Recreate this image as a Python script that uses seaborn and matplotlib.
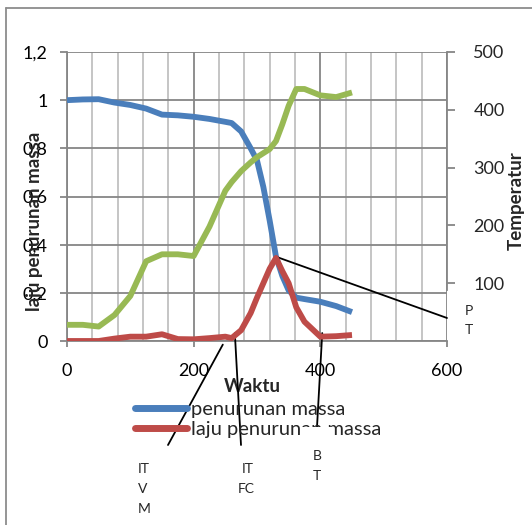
import matplotlib
matplotlib.use("Agg")
import matplotlib.pyplot as plt
import seaborn as sns
import numpy as np
from matplotlib.lines import Line2D
from matplotlib.ticker import MultipleLocator, FixedLocator

# ---- data ----
waktu = [0, 25, 50, 75, 100, 125, 150, 175, 200, 225, 250, 260, 275, 290,
         300, 310, 320, 330, 340, 350, 362, 375, 400, 425, 450]
penurunan_massa = [1.0, 1.003, 1.004, 0.99, 0.98, 0.965, 0.94, 0.937, 0.931,
                   0.922, 0.91, 0.905, 0.87, 0.80, 0.75, 0.64, 0.50, 0.35,
                   0.27, 0.21, 0.18, 0.174, 0.163, 0.145, 0.12]
laju_penurunan_massa = [0.0, 0.0, 0.0, 0.01, 0.018, 0.018, 0.028, 0.008, 0.007,
                        0.012, 0.018, 0.012, 0.045, 0.116, 0.18, 0.24, 0.30,
                        0.345, 0.29, 0.24, 0.14, 0.08, 0.018, 0.02, 0.025]
temperatur = [28, 28, 25, 45, 78, 138, 150, 150, 147, 198, 260, 275, 294, 309,
              318, 325, 332, 346, 375, 407, 436, 436, 425, 422, 430]

x_ticks = [0, 200, 400, 600]
x_ticklabels = ["0", "200", "400", "600"]
y_ticks = [0, 0.2, 0.4, 0.6, 0.8, 1.0, 1.2]
y_ticklabels = ["0", "0,2", "0,4", "0,6", "0,8", "1", "1,2"]
t_ticks = [100, 200, 300, 400, 500]
t_ticklabels = ["100", "200", "300", "400", "500"]

BLUE = "#4A7EBB"
RED = "#BE4B48"
GREEN = "#98B954"
GRID_MAJ = "#868686"
GRID_MIN = "#C0C0C0"

sns.set_style("white")
plt.rcParams['font.family'] = ['Lato', 'DejaVu Sans']

W, H = 532, 525
fig = plt.figure(figsize=(W / 100, H / 100), dpi=100)
ax = fig.add_axes([67 / W, 1 - 341 / H, 380 / W, 289 / H])

sns.lineplot(x=waktu, y=penurunan_massa, ax=ax, color=BLUE, linewidth=4.2,
             label="penurunan massa", solid_capstyle="butt", zorder=3)
sns.lineplot(x=waktu, y=laju_penurunan_massa, ax=ax, color=RED, linewidth=4.2,
             label="laju penurunan massa", solid_capstyle="butt", zorder=4)
handles, labels = ax.get_legend_handles_labels()
if ax.get_legend() is not None:
    ax.get_legend().remove()

ax.set_xlim(0, 600)
ax.set_ylim(0, 1.2)
ax.xaxis.set_major_locator(FixedLocator(x_ticks))
ax.set_xticklabels(x_ticklabels)
ax.xaxis.set_minor_locator(MultipleLocator(40))
ax.yaxis.set_major_locator(FixedLocator(y_ticks))
ax.set_yticklabels(y_ticklabels)

ax.grid(True, which="major", axis="both", color=GRID_MAJ, linewidth=1.3, zorder=0)
ax.grid(True, which="minor", axis="x", color=GRID_MIN, linewidth=1.3, zorder=0)
ax.set_axisbelow(True)

for side in ["top", "right"]:
    ax.spines[side].set_visible(False)
for side in ["left", "bottom"]:
    ax.spines[side].set_color(GRID_MAJ)
    ax.spines[side].set_linewidth(1.3)

ax.tick_params(axis="y", which="major", direction="out", length=5, width=1.3,
               color=GRID_MAJ, pad=9, labelsize=13, labelcolor="black", left=True)
ax.tick_params(axis="x", which="major", direction="out", length=4, width=1.3,
               color=GRID_MAJ, pad=12, labelsize=13, labelcolor="black", bottom=True)
ax.tick_params(axis="x", which="minor", length=0)

ax.set_xlabel("Waktu", fontsize=13.5, fontweight="bold")
ax.xaxis.set_label_coords((252 - 67) / 380, (341 - 387) / 289)
ax.xaxis.label.set_va("center")
ax.set_ylabel("laju penurunan massa", fontsize=13.5, fontweight="bold")
ax.yaxis.label.set(ha="center", va="center")
ax.yaxis.set_label_coords((35 - 67) / 380, (341 - 221) / 289)

# ---- temperature on twin axis ----
ax2 = ax.twinx()
sns.lineplot(x=waktu, y=temperatur, ax=ax2, color=GREEN, linewidth=4.2,
             legend=False, solid_capstyle="butt")
ax2.set_ylim(0, 500)
ax2.yaxis.set_major_locator(FixedLocator(t_ticks))
ax2.set_yticklabels(t_ticklabels)
ax2.grid(False)
for side in ["top", "left", "bottom"]:
    ax2.spines[side].set_visible(False)
ax2.spines["right"].set_color(GRID_MAJ)
ax2.spines["right"].set_linewidth(1.3)
ax2.spines["right"].set_bounds(88, 500)
ax2.tick_params(axis="y", direction="out", length=6, width=1.3, color=GRID_MAJ,
                pad=13, labelsize=13, right=True)
ax2.set_ylabel("Temperatur", fontsize=13.5, fontweight="bold")
ax2.yaxis.label.set(ha="center", va="center", rotation=90)
ax2.yaxis.set_label_coords((516 - 67) / 380, (341 - 201) / 289)

# ---- legend (only mass series) ----
leg = ax2.legend(handles, labels, loc="upper left",
                 bbox_to_anchor=(135 / W, 1 - 401 / H), bbox_transform=fig.transFigure,
                 frameon=False, fontsize=14.5, handlelength=2.6, handletextpad=0.2,
                 labelspacing=0.15, borderaxespad=0, borderpad=0)
for line in leg.get_lines():
    line.set_linewidth(5)
    line.set_solid_capstyle("round")

# ---- annotations (callouts) ----
def fpx(x, y):
    return (x, H - y)

ann_kw = dict(xycoords="data", textcoords="figure pixels",
              arrowprops=dict(arrowstyle="-", color="black", lw=1.3,
                              shrinkA=0, shrinkB=0), annotation_clip=False)
ax.annotate("", xy=(246, -0.015), xytext=fpx(168, 445), **ann_kw)
ax.annotate("", xy=(265, 0.033), xytext=fpx(241, 445), **ann_kw)
ax.annotate("", xy=(403, 0.033), xytext=fpx(317, 427), **ann_kw)
ax.annotate("", xy=(330, 0.35), xytext=fpx(447, 318), **ann_kw)

# white label boxes (they hide parts of underlying elements, as in the reference)
fig.patches.append(plt.Rectangle((300 / W, 1 - 470 / H), 33 / W, 43 / H,
                                 transform=fig.transFigure, facecolor="white",
                                 edgecolor="none", zorder=5))
fig.patches.append(plt.Rectangle((448 / W, 1 - 345 / H), 40 / W, 55 / H,
                                 transform=fig.transFigure, facecolor="white",
                                 edgecolor="none", zorder=5))

txt_kw = dict(fontsize=10, ha="left", va="center", zorder=6)
for s, y in zip(["IT", "V", "M"], [469, 489, 509]):
    fig.text(138 / W, 1 - y / H, s, **txt_kw)
for s, y in zip(["IT", "FC"], [469, 489]):
    fig.text((242 if s == "IT" else 238) / W, 1 - y / H, s, **txt_kw)
for s, y in zip(["B", "T"], [456, 476]):
    fig.text(313 / W, 1 - y / H, s, **txt_kw)
for s, y in zip(["P", "T"], [311, 330]):
    fig.text(465 / W, 1 - y / H, s, **txt_kw)

# ---- chart-area border (top and left visible) ----
fig.add_artist(Line2D([6 / W, 1], [1 - 8 / H, 1 - 8 / H], transform=fig.transFigure,
                      color="#8C8C8C", linewidth=1.3))
fig.add_artist(Line2D([6 / W, 6 / W], [0, 1 - 8 / H], transform=fig.transFigure,
                      color="#8C8C8C", linewidth=1.3))

fig.savefig("out.png", dpi=100, facecolor="white")
